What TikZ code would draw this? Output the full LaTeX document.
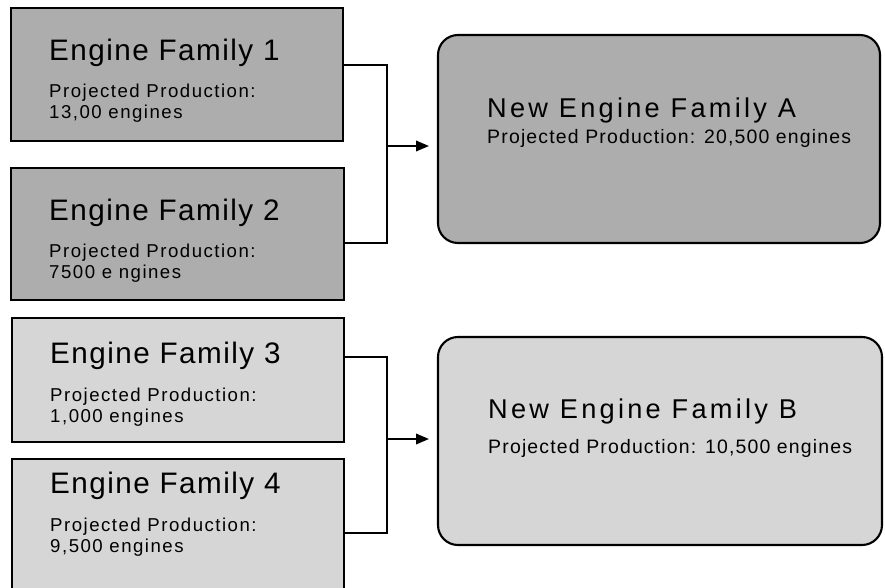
\documentclass[tikz,border=0pt]{standalone}
\usepackage{fontspec}
\setmainfont{Liberation Sans}
\usetikzlibrary{arrows.meta}

\definecolor{famdark}{gray}{0.68}
\definecolor{famlight}{gray}{0.84}

\tikzset{
  fambox/.style={draw,line width=1.8pt,inner sep=0},
  newbox/.style={fambox,rounded corners=0.6cm},
  famtitle/.style={anchor=base west,inner sep=0,
    font=\fontsize{25.3}{28}\selectfont\addfontfeature{LetterSpace=5}},
  famsub/.style={anchor=base west,inner sep=0,align=left,
    font=\fontsize{15.9}{17.9}\selectfont\addfontfeature{LetterSpace=8}},
  newtitle/.style={anchor=base west,inner sep=0,
    font=\fontsize{23.2}{28}\selectfont\addfontfeature{LetterSpace=12}},
  newsub/.style={anchor=base west,inner sep=0,
    font=\fontsize{16.6}{20}\selectfont\addfontfeature{LetterSpace=6}},
  link/.style={line width=1.5pt},
}

\begin{document}
\begin{tikzpicture}[x=0.03cm,y=-0.03cm]
\useasboundingbox (0,0) rectangle (885,588);

% old families
\node[fambox,fill=famdark,minimum width=9.96cm,minimum height=3.99cm] (f1) at (177,74.5) {};
\node[fambox,fill=famdark,minimum width=9.99cm,minimum height=3.96cm] (f2) at (177.5,234) {};
\node[fambox,fill=famlight,minimum width=9.96cm,minimum height=3.72cm] (f3) at (178,380) {};
\node[fambox,fill=famlight,minimum width=9.96cm,minimum height=4.86cm] (f4) at (178,540) {};

% (sub text is placed by its last line)
\node[famtitle] (t1) at (49,61) {Engine Family 1};
\node[famsub] (s1) at (49,118) {Projected Production:\\13,00 engines};
\node[famtitle] (t2) at (49,220) {Engine Family 2};
\node[famsub] (s2) at (49,278) {Projected Production:\\7500 e ngines};
\node[famtitle] (t3) at (50,363) {Engine Family 3};
\node[famsub] (s3) at (50,422) {Projected Production:\\1,000 engines};
\node[famtitle] (t4) at (50,493) {Engine Family 4};
\node[famsub] (s4) at (50,552) {Projected Production:\\9,500 engines};

% new families
\node[newbox,fill=famdark,minimum width=13.26cm,minimum height=6.24cm] (na) at (659,139) {};
\node[newbox,fill=famlight,minimum width=13.32cm,minimum height=6.24cm] (nb) at (660,441) {};

\node[newtitle] (ta) at (487,117) {New Engine Family A};
\node[newsub] (sa) at (487,143) {Projected Production: 20,500 engines};
\node[newtitle] (tb) at (488,418) {New Engine Family B};
\node[newsub] (sb) at (488,453) {Projected Production: 10,500 engines};

% connectors
\coordinate (ja) at (387,146);
\coordinate (jb) at (387,439);
\draw[link] (f1.east |- 0,65) -| (ja) |- (f2.east |- 0,243);
\draw[link] (f3.east |- 0,357) -| (jb) |- (f4.east |- 0,533);
\draw[link,-{Triangle[length=11pt,width=9pt]},shorten >=0.24cm] (ja) -- (na.west |- ja);
\draw[link,-{Triangle[length=11pt,width=9pt]},shorten >=0.24cm] (jb) -- (nb.west |- jb);
\end{tikzpicture}
\end{document}
